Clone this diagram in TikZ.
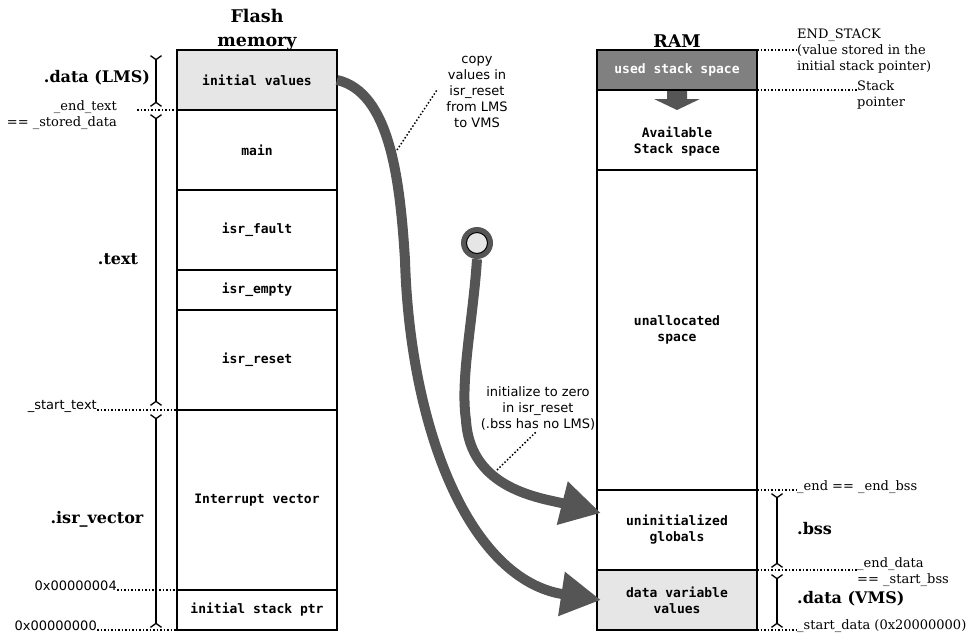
\documentclass[tikz,border=0pt]{standalone}
\usepackage{fontspec}
\usetikzlibrary{arrows.meta}
\newfontfamily\monof{DejaVu Sans Mono}
\newfontfamily\sansf{DejaVu Sans}
\newfontfamily\seriff{DejaVu Serif}
\definecolor{arrowgray}{HTML}{555555}
\definecolor{usedgray}{HTML}{808080}
\definecolor{lightfill}{HTML}{E6E6E6}
\begin{document}
\begin{tikzpicture}[x=1pt,y=-1pt,
  membox/.style={draw=black,line width=2pt,minimum width=160pt,inner sep=0pt,outer sep=0pt,align=center,font=\monof\bfseries\fontsize{13}{16}\selectfont},
  boxtext/.style={inner sep=0pt,align=center,font=\monof\bfseries\fontsize{13}{16}\selectfont},
  title/.style={inner sep=0pt,align=center,font=\seriff\bfseries\fontsize{17.5}{24}\selectfont},
  section/.style={inner sep=0pt,font=\seriff\bfseries\fontsize{16}{19}\selectfont},
  addr/.style={inner sep=0pt,font=\seriff\fontsize{13}{16}\selectfont},
  addrsans/.style={inner sep=0pt,font=\sansf\fontsize{13}{16}\selectfont},
  note/.style={inner sep=0pt,align=center,font=\sansf\fontsize{13}{16}\selectfont},
  dotline/.style={line width=1.5pt,dash pattern=on 1.5pt off 2pt},
  dimline/.style={line width=2pt,{Straight Barb[reversed,length=4pt,width=11pt,line width=1.3pt]}-{Straight Barb[reversed,length=4pt,width=11pt,line width=1.3pt]}},
  bigarrow/.style={draw=arrowgray,line width=10pt,-{Triangle[length=40pt,width=42pt]}},
]
\useasboundingbox (0,0) rectangle (970,641);

% ---------- Flash memory column ----------
\node[title] (ftitle) at (257,30) {Flash\\memory};
\node[membox,minimum height=60pt,fill=lightfill] (iv) at (257,80) {initial values};
\node[membox,minimum height=80pt] (main) at (257,150) {main};
\node[membox,minimum height=80pt] (fault) at (257,230) {isr\_fault};
\node[membox,minimum height=40pt] (empty) at (257,290) {isr\_empty};
\node[membox,minimum height=100pt] (reset) at (257,360) {isr\_reset};
\node[membox,minimum height=180pt] (ivec) at (257,500) {Interrupt vector};
\node[membox,minimum height=40pt] (isp) at (257,610) {initial stack ptr};

% ---------- RAM column ----------
\node[title] (rtitle) at (677,41) {RAM};
\node[membox,minimum height=40pt,fill=usedgray,text=white] (used) at (677,70) {used stack space};
\node[membox,minimum height=80pt] (avail) at (677,130) {};
\node[boxtext] (availtxt) at (677,142) {Available\\Stack space};
\node[membox,minimum height=320pt] (unalloc) at (677,330) {unallocated\\space};
\node[membox,minimum height=80pt] (uninit) at (677,530) {uninitialized\\globals};
\node[membox,minimum height=60pt,fill=lightfill] (dvv) at (677,600) {data variable\\values};

% stack growth arrow
\fill[arrowgray] (667,91) -- (687,91) -- (687,99) -- (700,99) -- (677,110) -- (654,99) -- (667,99) -- cycle;

% ---------- left section labels ----------
\node[section] (sdata) at (97,78) {.data (LMS)};
\node[section] (stext) at (118,259) {.text};
\node[section] (svec) at (97,519) {.isr\_vector};

\coordinate (d1a) at (156,55);  \coordinate (d1b) at (156,107);
\coordinate (d2a) at (156,114); \coordinate (d2b) at (156,406);
\coordinate (d3a) at (156,414); \coordinate (d3b) at (156,628);
\draw[dimline] (d1a) -- (d1b);
\draw[dimline] (d2a) -- (d2b);
\draw[dimline] (d3a) -- (d3b);

% left address labels
\node[addr,anchor=east,align=right] (endtext) at (117,115) {\_end\_text\\== \_stored\_data};
\coordinate (endtextdot) at (137,110);
\draw[dotline] (endtextdot) -- (iv.south west);
\node[addrsans,anchor=east] (starttext) at (97,406) {\_start\_text};
\draw[dotline] (starttext.east |- reset.south west) -- (reset.south west);
\node[addrsans,anchor=east] (a4) at (117,586) {0x00000004};
\draw[dotline] (a4.east |- isp.north west) -- (isp.north west);
\node[addrsans,anchor=east] (a0) at (97,626) {0x00000000};
\draw[dotline] (a0.east |- isp.south west) -- (isp.south west);

% ---------- right section labels ----------
\node[section,anchor=west] (sbss) at (797,529) {.bss};
\node[section,anchor=west] (sdvms) at (797,599) {.data (VMS)};
\coordinate (d4a) at (777,493); \coordinate (d4b) at (777,568);
\coordinate (d5a) at (777,574); \coordinate (d5b) at (777,628);
\draw[dimline] (d4a) -- (d4b);
\draw[dimline] (d5a) -- (d5b);

% right address labels
\node[addr,anchor=west,align=left] (endstack) at (797,51) {END\_STACK\\(value stored in the\\initial stack pointer)};
\draw[dotline] (used.north east) -- (used.north east -| endstack.west);
\node[addr,anchor=west,align=left] (sp) at (857,95) {Stack\\pointer};
\draw[dotline] (used.south east) -- (used.south east -| sp.west);
\node[addr,anchor=west] (endbss) at (797,487) {\_end == \_end\_bss};
\draw[dotline] (unalloc.south east) -- (unalloc.south east -| endbss.west);
\node[addr,anchor=west,align=left] (enddata) at (857,572) {\_end\_data\\== \_start\_bss};
\draw[dotline] (dvv.north east) -- (dvv.north east -| enddata.west);
\node[addr,anchor=west] (startdata) at (797,626) {\_start\_data (0x20000000)};
\draw[dotline] (dvv.south east) -- (dvv.south east -| startdata.west);

% ---------- notes ----------
\node[note] (copy) at (477,92) {copy\\values in\\isr\_reset\\from LMS\\to VMS};
\coordinate (copyA) at (397,150);
\coordinate (copyB) at (437,90);
\draw[dotline] (copyA) -- (copyB);
\node[note] (init) at (538,408) {initialize to zero\\in isr\_reset\\(.bss has no LMS)};
\coordinate (initA) at (497,470);
\draw[dotline] (initA) -- ([xshift=-1pt,yshift=-1pt]init.south);

% ---------- big arrows ----------
\draw[bigarrow] (iv.east) .. controls (390,92) and (400,180) .. (405,260)
  .. controls (410,430) and (470,580) .. ([xshift=4pt]dvv.west);
\node[circle,fill=arrowgray,minimum size=32pt,inner sep=0pt] (src) at (477,243) {};
\node[circle,fill=lightfill,draw=black,line width=1pt,minimum size=21pt,inner sep=0pt] (srcin) at (477,243) {};
\draw[bigarrow] (src.south) .. controls (473,320) and (460,380) .. (466,420)
  .. controls (470,490) and (542,498) .. ([shift={(4pt,17pt)}]uninit.west);
\end{tikzpicture}
\end{document}
